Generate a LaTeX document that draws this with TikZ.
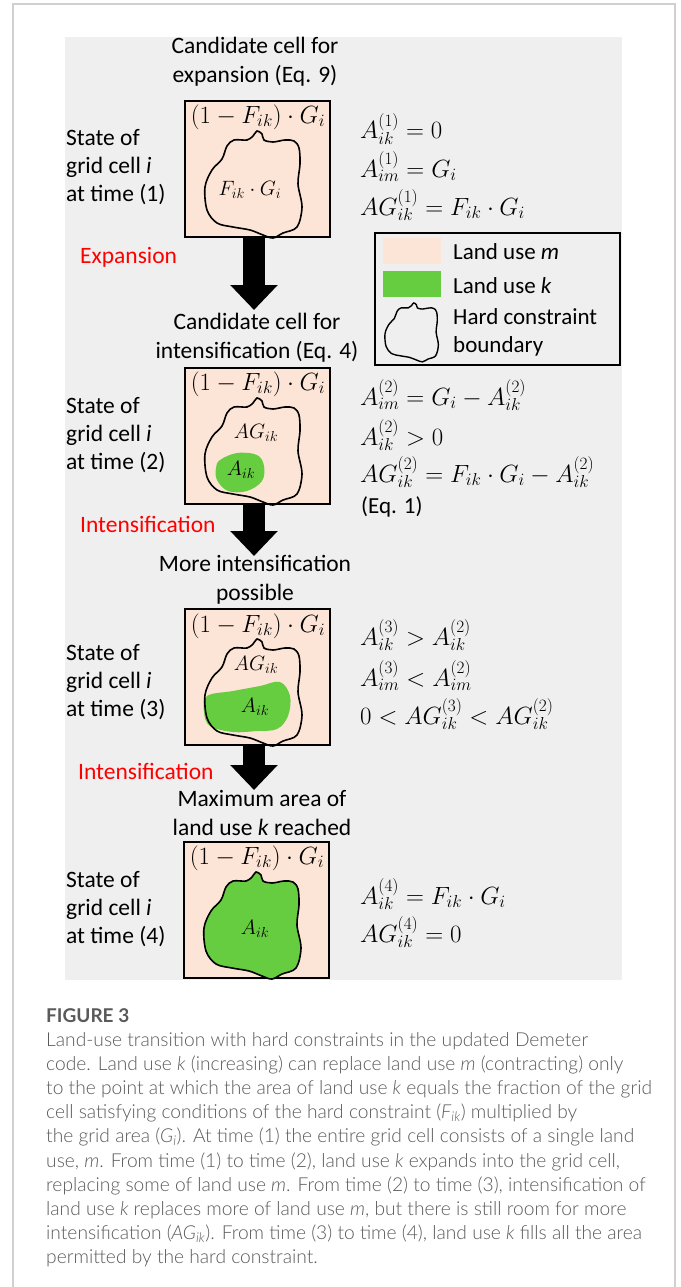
\documentclass[tikz,border=0pt]{standalone}
\usepackage{fontspec}
\setmainfont{Carlito}
\IfFontExistsTF{Lato Light}{\newfontfamily\capfont{Lato Light}}{\newfontfamily\capfont{Lato}}
\newfontfamily\figfont{Lato}
\usetikzlibrary{arrows.meta}
\definecolor{panel}{HTML}{EFEFEF}
\definecolor{pinkm}{HTML}{FCE4D6}
\definecolor{greenk}{HTML}{66CC40}
\definecolor{framegrey}{HTML}{D0D0D0}
\definecolor{capgrey}{HTML}{5A5A5A}
\definecolor{redlab}{HTML}{FF0000}
\tikzset{
  cellbox/.style={draw=black, line width=1.3pt, fill=pinkm, minimum width=145pt, minimum height=136pt, inner sep=0pt},
  headtxt/.style={align=center, inner sep=0pt, font=\fontsize{23.5}{29}\selectfont},
  statetxt/.style={align=left, anchor=west, inner sep=0pt, font=\fontsize{23.5}{28}\selectfont},
  redtxt/.style={anchor=west, inner sep=0pt, text=redlab, font=\fontsize{23.5}{28}\selectfont},
  eqtxt/.style={anchor=base west, inner sep=0pt, font=\fontsize{23.5}{28}\selectfont},
  boxmath/.style={inner sep=0pt, font=\fontsize{23.5}{28}\selectfont},
  blobmath/.style={inner sep=0pt, font=\fontsize{22.5}{26}\selectfont},
  legtxt/.style={anchor=west, inner sep=0pt, font=\fontsize{23}{28}\selectfont, align=left},
  bigarrow/.style={line width=22pt, -{Triangle[width=46pt,length=25pt]}},
  capline/.style={anchor=base west, inner sep=0pt, text=capgrey, font=\capfont\fontsize{19.2}{22}\selectfont},
  blob/.pic={\path[pic actions] plot[smooth cycle, tension=0.55] coordinates {
      (62,39) (68,35) (72,30) (77,33) (79,39) (88,41) (100,39) (109,40) (114,47)
      (115,63) (113,83) (117,106) (112,126) (98,132) (88,137) (78,134) (65,129)
      (48,126) (32,122) (22,109) (20,86) (27,69) (37,58) (42,45) (49,39)};},
  greensmall/.pic={\path[pic actions] plot[smooth cycle, tension=0.6] coordinates {
      (35,92) (52,85) (72,87) (79,98) (77,113) (62,123) (43,123) (32,112) (31,100)};},
  greenmid/.pic={\path[pic actions] plot[smooth cycle, tension=0.6] coordinates {
      (22,87) (48,82) (75,77) (95,73) (105,87) (103,107) (92,120) (72,122) (48,123) (25,117) (19,103)};}
}
\begin{document}
\begin{tikzpicture}[x=1pt,y=-1pt]
\useasboundingbox (0,0) rectangle (680,1287);
% outer frame and panel
\draw[framegrey, line width=1.5pt] (13,1290) -- (13,4) -- (675,4) -- (675,1290);
\fill[panel] (65,37) rectangle (622,980);

% cell boxes
\node[cellbox] (c1) at (257.5,169) {};
\node[cellbox] (c2) at (257.5,436) {};
\node[cellbox] (c3) at (257.5,677) {};
\node[cellbox] (c4) at (256.5,910) {};

% blobs
\pic[draw=black, line width=1.6pt] (b1) at (185,101) {blob};
\pic[fill=greenk] (g2) at (185,368) {greensmall};
\pic[draw=black, line width=1.6pt] (b2) at (185,368) {blob};
\pic[fill=greenk] (g3) at (185,609) {greenmid};
\pic[draw=black, line width=1.6pt] (b3) at (185,609) {blob};
\pic[fill=greenk, draw=black, line width=1.6pt] (b4) at (184,842) {blob};

% box texts
\node[boxmath] (t1) at (258,117) {$(1-F_{ik})\cdot G_i$};
\node[boxmath] (t2) at (258,384) {$(1-F_{ik})\cdot G_i$};
\node[boxmath] (t3) at (258,626) {$(1-F_{ik})\cdot G_i$};
\node[boxmath] (t4) at (257,858) {$(1-F_{ik})\cdot G_i$};
\node[blobmath] (m1) at (250,190) {$F_{ik}\cdot G_i$};
\node[blobmath] (m2a) at (256,433) {$AG_{ik}$};
\node[blobmath] (m2b) at (241,470) {$A_{ik}$};
\node[blobmath] (m3a) at (256,665) {$AG_{ik}$};
\node[blobmath] (m3b) at (255,707) {$A_{ik}$};
\node[blobmath] (m4) at (255,929) {$A_{ik}$};

% headings
\node[headtxt] (h1) at (255,62) {Candidate cell for\\expansion (Eq. 9)};
\node[headtxt] (h2) at (257,338) {Candidate cell for\\intensification (Eq. 4)};
\node[headtxt] (h3) at (255,580) {More intensification\\possible};
\node[headtxt] (h4) at (262,813) {Maximum area of\\land use \textit{k} reached};

% state labels
\node[statetxt] (s1) at (66,167) {State of\\grid cell \textit{i}\\at time (1)};
\node[statetxt] (s2) at (66,435) {State of\\grid cell \textit{i}\\at time (2)};
\node[statetxt] (s3) at (66,682) {State of\\grid cell \textit{i}\\at time (3)};
\node[statetxt] (s4) at (66,909) {State of\\grid cell \textit{i}\\at time (4)};

% transitions
\node[redtxt] (r1) at (80,257) {Expansion};
\node[redtxt] (r2) at (80,524) {Intensification};
\node[redtxt] (r3) at (78,771) {Intensification};
\coordinate (a1) at (254,310);
\coordinate (a2) at (254,556);
\coordinate (a3) at (254,790);
\draw[bigarrow] ([xshift=-3.5pt]c1.south) -- (a1);
\draw[bigarrow] ([xshift=-3.5pt]c2.south) -- (a2);
\draw[bigarrow] ([xshift=-3.5pt]c3.south) -- (a3);

% equations
\node[eqtxt] (e11) at (360,139) {$A_{ik}^{(1)}=0$};
\node[eqtxt] (e12) at (360,177) {$A_{im}^{(1)}=G_i$};
\node[eqtxt] (e13) at (360,215) {$AG_{ik}^{(1)}=F_{ik}\cdot G_i$};
\node[eqtxt] (e21) at (360,405) {$A_{im}^{(2)}=G_i-A_{ik}^{(2)}$};
\node[eqtxt] (e22) at (360,445) {$A_{ik}^{(2)}>0$};
\node[eqtxt] (e23) at (360,482) {$AG_{ik}^{(2)}=F_{ik}\cdot G_i-A_{ik}^{(2)}$};
\node[eqtxt, font=\fontsize{23}{28}\selectfont] (e24) at (361,513) {(Eq. 1)};
\node[eqtxt] (e31) at (360,645) {$A_{ik}^{(3)}>A_{ik}^{(2)}$};
\node[eqtxt] (e32) at (360,686) {$A_{im}^{(3)}<A_{im}^{(2)}$};
\node[eqtxt] (e33) at (360,724) {$0<AG_{ik}^{(3)}<AG_{ik}^{(2)}$};
\node[eqtxt] (e41) at (360,904) {$A_{ik}^{(4)}=F_{ik}\cdot G_i$};
\node[eqtxt] (e42) at (360,942) {$AG_{ik}^{(4)}=0$};

% legend
\node[draw=black, line width=1.3pt, minimum width=245pt, minimum height=132pt, inner sep=0pt] (leg) at (497.5,299) {};
\fill[pinkm] (383,238) rectangle (441,264);
\fill[greenk] (383,271) rectangle (441,297);
\pic[draw=black, line width=1.4pt, scale=0.55] (lb) at (374,286.5) {blob};
\node[legtxt] (l1) at (453,252) {Land use \textit{m}};
\node[legtxt] (l2) at (453,286) {Land use \textit{k}};
\node[legtxt] (l3) at (453,332) {Hard constraint\\boundary};

% caption
\node[anchor=base west, inner sep=0pt, text=capgrey, font=\figfont\bfseries\fontsize{19}{22}\selectfont] (fig) at (46,1022) {FIGURE 3};
\node[capline] (k1) at (46,1046) {Land-use transition with hard constraints in the updated Demeter};
\node[capline] (k2) at (46,1070.2) {code. Land use \textit{k} (increasing) can replace land use \textit{m} (contracting) only};
\node[capline] (k3) at (46,1094.4) {to the point at which the area of land use \textit{k} equals the fraction of the grid};
\node[capline] (k4) at (46,1118.6) {cell satisfying conditions of the hard constraint (\textit{F}\textsubscript{\textit{ik}}) multiplied by};
\node[capline] (k5) at (46,1142.8) {the grid area (\textit{G}\textsubscript{\textit{i}}). At time (1) the entire grid cell consists of a single land};
\node[capline] (k6) at (46,1167) {use, \textit{m}. From time (1) to time (2), land use \textit{k} expands into the grid cell,};
\node[capline] (k7) at (46,1191.2) {replacing some of land use \textit{m}. From time (2) to time (3), intensification of};
\node[capline] (k8) at (46,1215.4) {land use \textit{k} replaces more of land use \textit{m}, but there is still room for more};
\node[capline] (k9) at (46,1239.6) {intensification (\textit{AG}\textsubscript{\textit{ik}}). From time (3) to time (4), land use \textit{k} fills all the area};
\node[capline] (k10) at (46,1263.8) {permitted by the hard constraint.};
\end{tikzpicture}
\end{document}
